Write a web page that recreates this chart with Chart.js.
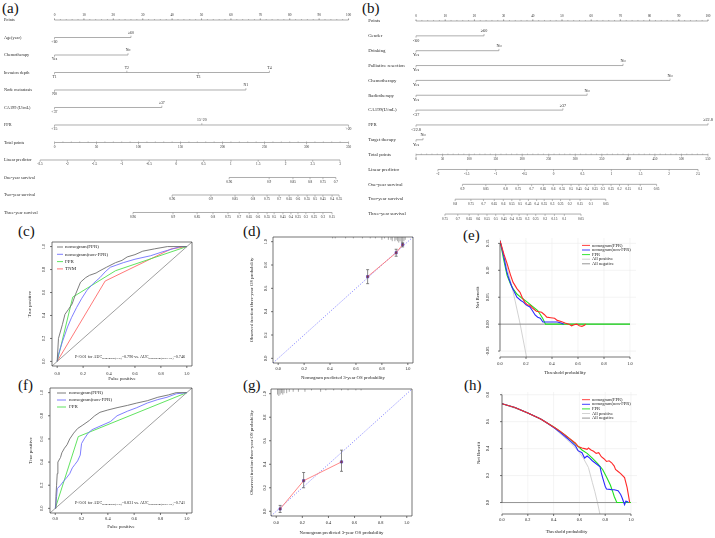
<!doctype html>
<html lang="en">
<head>
<meta charset="utf-8">
<title>Nomograms, ROC, calibration and decision curves</title>
<style>
* { margin: 0; padding: 0; }
body { width: 715px; height: 538px; background: #fff; position: relative; overflow: hidden; }
canvas { position: absolute; left: 0; top: 0; }
.tag { position: absolute; font-family: "Liberation Serif", serif; font-size: 15px; line-height: 15px; color: #111; }
</style>
</head>
<body>
<div class="tag" style="left:2px;top:1px">(a)</div>
<div class="tag" style="left:362px;top:1px">(b)</div>
<div class="tag" style="left:18px;top:224px">(c)</div>
<div class="tag" style="left:243px;top:224px">(d)</div>
<div class="tag" style="left:463px;top:228px">(e)</div>
<div class="tag" style="left:18px;top:378px">(f)</div>
<div class="tag" style="left:243px;top:378px">(g)</div>
<div class="tag" style="left:464px;top:378px">(h)</div>

<canvas id="nomoA" width="715" height="538"></canvas>
<canvas id="nomoB" width="715" height="538"></canvas>
<canvas id="rocC" width="715" height="538"></canvas>
<canvas id="calD" width="715" height="538"></canvas>
<canvas id="dcaE" width="715" height="538"></canvas>
<canvas id="rocF" width="715" height="538"></canvas>
<canvas id="calG" width="715" height="538"></canvas>
<canvas id="dcaH" width="715" height="538"></canvas>

<script src="https://cdn.jsdelivr.net/npm/chart.js"></script>
<script>
// ---------- (a) nomogram : positions are read on the 0-100 "Points" scale ----------
const aRowNames = ['Points', 'Age(year)', 'Chemotherapy', 'Invasion depth', 'Node metastasis', 'CA199 (U/mL)', 'FPR',
  'Total points', 'Linear predictor', 'One-year survival', 'Two-year survival', 'Three-year survival'];
const aPoints = [0, 10, 20, 30, 40, 50, 60, 70, 80, 90, 100];
const aAge = [['<60', 0], ['≥60', 26]];
const aChemo = [['Yes', 0], ['No', 25]];
const aDepth = [['T1', 0], ['T2', 24.6], ['T3', 48.9], ['T4', 73.1]];
const aNode = [['N0', 0], ['N1', 65.1]];
const aCA199 = [['<37', 0], ['≥37', 36.5]];
const aFPR = [['<15', 0], ['15~20', 50.1], ['>20', 100]];
const aTotal = [0, 50, 100, 150, 200, 250, 300, 350];
const aLinear = [-2.5, -2, -1.5, -1, -0.5, 0, 0.5, 1, 1.5, 2, 2.5, 3];
const aLinearEnds = [-4.9, 97.1];
const aOneYear = [['0.96', 59.4], ['0.9', 73.0], ['0.85', 81.1], ['0.8', 86.9], ['0.75', 91.3], ['0.7', 95.7]];
const aTwoYear = [['0.96', 40.0], ['0.9', 53.2], ['0.85', 61.4], ['0.8', 67.5], ['0.75', 72.3], ['0.7', 76.4], ['0.65', 79.8],
  ['0.6', 82.8], ['0.55', 85.9], ['0.5', 88.6], ['0.45', 91.3], ['0.4', 94.4], ['0.35', 96.8]];
const aThreeYear = [['0.96', 26.7], ['0.9', 40.3], ['0.85', 48.5], ['0.8', 53.9], ['0.75', 59.0], ['0.7', 62.8], ['0.65', 66.2],
  ['0.6', 69.2], ['0.55', 72.3], ['0.5', 74.7], ['0.45', 77.7], ['0.4', 80.4], ['0.35', 82.8], ['0.3', 85.5], ['0.25', 88.3],
  ['0.2', 91.3], ['0.15', 94.4]];

// ---------- (b) nomogram ----------
const bRowNames = ['Points', 'Gender', 'Drinking', 'Palliative resection', 'Chemotherapy', 'Radiotherapy', 'CA199(U/mL)', 'FPR',
  'Target therapy', 'Total points', 'Linear predictor', 'One-year survival', 'Two-year survival', 'Three-year survival'];
const bGender = [['<60', 0], ['≥60', 23.3]];
const bDrinking = [['Yes', 0], ['No', 28.4]];
const bPalliative = [['Yes', 0], ['No', 70.9]];
const bChemo = [['Yes', 0], ['No', 87.0]];
const bRadio = [['Yes', 0], ['No', 58.6]];
const bCA199 = [['<37', 0], ['≥37', 50.3]];
const bFPR = [['<22.8', 0], ['≥22.8', 100]];
const bTarget = [['Yes', 0], ['No', 2.4]];
const bTotal = [0, 50, 100, 150, 200, 250, 300, 350, 400, 450, 500, 550];
const bLinear = [-2, -1.5, -1, -0.5, 0, 0.5, 1, 1.5, 2, 2.5];
const bLinearEnds = [7.5, 96.6];
const bOneYear = [['0.9', 15.9], ['0.85', 23.9], ['0.8', 30.7], ['0.75', 35.0], ['0.7', 39.6], ['0.65', 43.6], ['0.6', 47.0],
  ['0.55', 50.1], ['0.5', 53.1], ['0.45', 55.8], ['0.4', 58.5], ['0.35', 61.3], ['0.3', 64.0], ['0.25', 66.8], ['0.2', 69.7],
  ['0.15', 72.7], ['0.1', 76.8], ['0.05', 82.4]];
const bTwoYear = [['0.8', 13.4], ['0.75', 18.8], ['0.7', 23.1], ['0.65', 26.8], ['0.6', 29.9], ['0.55', 32.8], ['0.5', 35.6],
  ['0.45', 38.5], ['0.4', 41.3], ['0.35', 43.9], ['0.3', 46.7], ['0.25', 49.5], ['0.2', 52.7], ['0.15', 56.2], ['0.1', 59.9],
  ['0.05', 65.0]];
const bThreeYear = [['0.75', 9.9], ['0.7', 14.3], ['0.65', 18.2], ['0.6', 21.3], ['0.55', 24.3], ['0.5', 27.3], ['0.45', 30.1],
  ['0.4', 32.8], ['0.35', 35.3], ['0.3', 38.1], ['0.25', 41.0], ['0.2', 44.2], ['0.15', 47.4], ['0.1', 50.8], ['0.05', 56.5]];

// ---------- ROC curves [false positive, true positive] ----------
const cNomoFPR = [[0, 0], [0.01, 0.2], [0.04, 0.32], [0.06, 0.41], [0.085, 0.45], [0.115, 0.5], [0.14, 0.58], [0.18, 0.69],
  [0.22, 0.73], [0.25, 0.75], [0.3, 0.77], [0.33, 0.79], [0.38, 0.82], [0.45, 0.86], [0.5, 0.88], [0.54, 0.91], [0.6, 0.93],
  [0.66, 0.96], [0.75, 0.98], [0.85, 1], [1, 1]];
const cNomoNon = [[0, 0], [0.01, 0.06], [0.04, 0.17], [0.08, 0.3], [0.11, 0.38], [0.15, 0.47], [0.19, 0.55], [0.23, 0.62],
  [0.28, 0.68], [0.33, 0.73], [0.37, 0.78], [0.41, 0.82], [0.46, 0.84], [0.51, 0.86], [0.6, 0.89], [0.72, 0.92], [0.8, 0.95],
  [0.89, 0.98], [0.95, 1], [1, 1]];
const cFPR = [[0, 0], [0.12, 0.56], [0.45, 0.79], [1, 1]];
const cTNM = [[0, 0], [0.37, 0.70], [0.88, 0.98], [1, 1]];

const fNomoFPR = [[0, 0], [0.005, 0.1], [0.01, 0.2], [0.015, 0.3], [0.02, 0.4], [0.04, 0.44], [0.05, 0.48], [0.07, 0.52],
  [0.09, 0.55], [0.11, 0.6], [0.14, 0.65], [0.17, 0.69], [0.21, 0.72], [0.26, 0.76], [0.3, 0.8], [0.34, 0.83], [0.4, 0.85],
  [0.47, 0.87], [0.55, 0.89], [0.62, 0.91], [0.7, 0.93], [0.78, 0.96], [0.86, 0.98], [0.92, 1], [1, 1]];
const fNomoNon = [[0, 0], [0.01, 0.1], [0.015, 0.17], [0.04, 0.2], [0.06, 0.23], [0.09, 0.27], [0.11, 0.3], [0.13, 0.35],
  [0.15, 0.38], [0.17, 0.41], [0.19, 0.46], [0.2, 0.56], [0.22, 0.6], [0.25, 0.65], [0.28, 0.68], [0.34, 0.71], [0.42, 0.75],
  [0.47, 0.8], [0.55, 0.84], [0.62, 0.87], [0.7, 0.91], [0.78, 0.94], [0.85, 0.96], [0.92, 0.99], [1, 1]];
const fFPR = [[0, 0], [0.175, 0.62], [1, 1]];

// ---------- calibration: predicted, observed, error bar ends, rug ----------
const dPred = [0.69, 0.91, 0.96];
const dObs = [0.70, 0.905, 0.975];
const dLow = [0.64, 0.875, 0.955];
const dHigh = [0.76, 0.935, 0.99];
const dRugX = [0.42, 0.44, 0.52, 0.58, 0.65, 0.71, 0.75, 0.8, 0.82, 0.85, 0.87, 0.88, 0.9, 0.91, 0.92, 0.93, 0.94, 0.95, 0.96, 0.97, 0.98];
const dRugN = [1, 1, 1, 1, 1, 1, 1, 2, 1, 2, 2, 3, 3, 2, 3, 4, 3, 4, 5, 3, 2];

const gPred = [0.03, 0.21, 0.5];
const gObs = [0.02, 0.26, 0.42];
const gLow = [-0.01, 0.2, 0.34];
const gHigh = [0.05, 0.33, 0.52];
const gRugX = [0.01, 0.02, 0.03, 0.04, 0.05, 0.06, 0.08, 0.1, 0.13, 0.17, 0.22, 0.27, 0.34, 0.38, 0.44, 0.5, 0.55, 0.61, 0.65];
const gRugN = [4, 5, 4, 3, 4, 3, 3, 2, 2, 2, 2, 1, 2, 1, 1, 1, 1, 1, 1];

// ---------- decision curves [threshold, net benefit] ----------
const eNomoFPR = [[0, 0.155], [0.03, 0.13], [0.054, 0.113], [0.08, 0.092], [0.1, 0.078], [0.13, 0.066], [0.154, 0.059],
  [0.17, 0.05], [0.19, 0.041], [0.21, 0.036], [0.23, 0.035], [0.25, 0.03], [0.28, 0.024], [0.32, 0.022], [0.34, 0.018],
  [0.36, 0.013], [0.39, 0.012], [0.42, 0.011], [0.44, 0.007], [0.47, 0.005], [0.5, 0.002], [0.53, 0], [0.55, -0.003],
  [0.57, -0.001], [0.59, 0], [0.61, -0.003], [0.63, -0.004], [0.65, -0.002], [0.66, 0]];
const eNomoNon = [[0, 0.155], [0.03, 0.125], [0.05, 0.1], [0.065, 0.087], [0.09, 0.07], [0.13, 0.05], [0.16, 0.044],
  [0.18, 0.041], [0.2, 0.036], [0.23, 0.032], [0.25, 0.025], [0.27, 0.017], [0.29, 0.013], [0.31, 0.011], [0.33, 0.004],
  [0.36, 0.004], [0.4, 0.004], [0.44, 0.004], [0.47, 0.002], [0.49, 0]];
const eFPR = [[0, 0.155], [0.03, 0.118], [0.055, 0.09], [0.08, 0.075], [0.1, 0.066], [0.13, 0.056], [0.17, 0.048],
  [0.21, 0.041], [0.25, 0.033], [0.29, 0.025], [0.31, 0.018], [0.33, 0.01], [0.35, 0], [1, 0]];
const eAllPos = [[0, 0.155], [0.05, 0.11], [0.1, 0.061], [0.15, 0.006], [0.2, -0.056], [0.22, -0.083]];
const eAllNeg = [[0, 0], [1, 0]];

const hNomoFPR = [[0, 0.733], [0.1, 0.705], [0.2, 0.665], [0.3, 0.62], [0.35, 0.59], [0.41, 0.555], [0.45, 0.53], [0.49, 0.5],
  [0.53, 0.47], [0.57, 0.44], [0.59, 0.415], [0.62, 0.405], [0.64, 0.4], [0.66, 0.395], [0.67, 0.405], [0.69, 0.39],
  [0.71, 0.38], [0.73, 0.365], [0.75, 0.37], [0.77, 0.34], [0.79, 0.325], [0.81, 0.305], [0.83, 0.31], [0.85, 0.295],
  [0.87, 0.27], [0.88, 0.245], [0.9, 0.23], [0.92, 0.215], [0.95, 0.185], [0.97, 0.11], [0.99, 0]];
const hNomoNon = [[0, 0.733], [0.1, 0.705], [0.2, 0.665], [0.3, 0.62], [0.35, 0.59], [0.41, 0.55], [0.45, 0.52], [0.49, 0.49],
  [0.53, 0.455], [0.57, 0.42], [0.59, 0.385], [0.62, 0.37], [0.64, 0.33], [0.66, 0.345], [0.68, 0.33], [0.7, 0.31],
  [0.72, 0.295], [0.74, 0.28], [0.76, 0.265], [0.77, 0.22], [0.78, 0.185], [0.8, 0.12], [0.81, 0.1], [0.85, 0.096],
  [0.87, 0.095], [0.9, 0.088], [0.92, 0.06], [0.93, 0.037], [0.95, -0.015], [0.96, 0.01], [0.97, 0.007], [0.98, 0]];
const hFPR = [[0, 0.733], [0.1, 0.705], [0.2, 0.665], [0.3, 0.62], [0.41, 0.555], [0.49, 0.5], [0.57, 0.435], [0.62, 0.39],
  [0.66, 0.365], [0.7, 0.33], [0.74, 0.29], [0.78, 0.245], [0.81, 0.19], [0.84, 0.13], [0.86, 0.075], [0.87, 0.045],
  [0.89, 0], [1, 0]];
const hAllPos = [[0, 0.733], [0.2, 0.666], [0.3, 0.62], [0.4, 0.555], [0.5, 0.47], [0.55, 0.425], [0.6, 0.37], [0.63, 0.33],
  [0.67, 0.26], [0.7, 0.15], [0.72, 0.08], [0.74, 0], [0.76, -0.09]];
const hAllNeg = [[0, 0], [1, 0]];

// ---------- axis ticks ----------
const unitTicks = [0, 0.2, 0.4, 0.6, 0.8, 1];
const eYTicks = [-0.05, 0, 0.05, 0.1, 0.15];
const hYTicks = [0, 0.2, 0.4, 0.6, 0.8];

// ================= drawing =================
const W = 715, H = 538;
const FONT = '"Liberation Serif", "Times New Roman", serif';
const fnt = s => s + 'px ' + FONT;
const extras = {};

const GREY = '#6e6e6e', BLUE = '#7070ff', GREEN = '#4fe04f', RED = '#ff6a6a';
const DRED = '#ff2a2a', DBLUE = '#2b2bff', DGREEN = '#1fe01f', POS = '#cdcdcd', NEG = '#8a8a8a';

// nomogram rows
function catRow(levels) {
  return { ticks: levels.map((l, i) => ({ t: l[0], p: l[1], up: i % 2 === 1 })), cat: true };
}
function listRow(list) {
  return { ticks: list.map(l => ({ t: l[0], p: l[1], up: false })) };
}
function pointsRow(vals) {
  const minor = [];
  for (let v = vals[0]; v <= vals[vals.length - 1]; v += 2) minor.push(v);
  return { ticks: vals.map(v => ({ t: String(v), p: v, up: true })), minor };
}
function totalRow(vals) {
  const max = vals[vals.length - 1], minor = [];
  for (let v = 0; v <= max; v += 10) minor.push(v * 100 / max);
  return { ticks: vals.map(v => ({ t: String(v), p: v * 100 / max, up: false })), minor };
}
function linearRow(vals, ends) {
  const v0 = vals[0], v1 = vals[vals.length - 1];
  return { ticks: vals.map(v => ({ t: String(v), p: ends[0] + (v - v0) / (v1 - v0) * (ends[1] - ends[0]), up: false })) };
}

const nomoPlugin = {
  id: 'nomo',
  afterDatasetsDraw(chart) {
    const o = extras[chart.canvas.id];
    const ctx = chart.ctx, xs = chart.scales.x, ys = chart.scales.y;
    ctx.save();
    ctx.strokeStyle = '#8a8a8a';
    ctx.lineWidth = 0.6;
    ctx.fillStyle = '#2a2a2a';
    o.rows.forEach((r, i) => {
      const py = ys.getPixelForValue(i);
      ctx.font = fnt(o.nameSize);
      ctx.textAlign = 'left';
      ctx.textBaseline = 'middle';
      ctx.fillText(o.names[i], xs.getPixelForValue(o.nameAt), py);
      ctx.beginPath();
      (r.minor || []).forEach(p => {
        const px = xs.getPixelForValue(p);
        ctx.moveTo(px, py); ctx.lineTo(px, py - 1);
      });
      r.ticks.forEach(t => {
        const px = xs.getPixelForValue(t.p);
        ctx.moveTo(px, py); ctx.lineTo(px, py + (t.up ? -1.8 : 1.8));
      });
      ctx.stroke();
      ctx.font = fnt(r.cat ? o.catSize : o.tickSize);
      ctx.textAlign = 'center';
      r.ticks.forEach(t => {
        ctx.fillText(t.t, xs.getPixelForValue(t.p), py + (t.up ? -o.gap : o.gap));
      });
    });
    ctx.restore();
  }
};

function nomoChart(id, names, rows, area, xr, yr, sizes) {
  extras[id] = Object.assign({ names, rows }, sizes);
  const datasets = rows.map((r, i) => {
    const ps = r.ticks.map(t => t.p);
    return {
      data: [{ x: Math.min(...ps), y: i }, { x: Math.max(...ps), y: i }],
      showLine: true, borderColor: '#8a8a8a', borderWidth: 0.7, pointRadius: 0
    };
  });
  new Chart(document.getElementById(id), {
    type: 'scatter',
    data: { datasets },
    options: {
      responsive: false, animation: false, events: [],
      layout: { padding: { left: area[0], top: area[1], right: W - area[2], bottom: H - area[3] } },
      scales: {
        x: { type: 'linear', display: false, min: xr[0], max: xr[1] },
        y: { type: 'linear', display: false, min: yr[0], max: yr[1], reverse: true }
      },
      plugins: { legend: { display: false }, tooltip: { enabled: false } }
    },
    plugins: [nomoPlugin]
  });
}

// R-style axes, box, legend and extras for the small plots
function richText(ctx, parts, xRight, y, base, sub) {
  let w = 0;
  parts.forEach(p => { ctx.font = fnt(p[1] ? sub : base); w += ctx.measureText(p[0]).width; });
  let x = xRight - w;
  ctx.textAlign = 'left';
  parts.forEach(p => {
    ctx.font = fnt(p[1] ? sub : base);
    ctx.fillText(p[0], x, y + (p[1] ? sub * 0.45 : 0));
    x += ctx.measureText(p[0]).width;
  });
}

const rPlot = {
  id: 'rplot',
  beforeDatasetsDraw(chart) {
    const o = extras[chart.canvas.id];
    if (!o.grid) return;
    const ctx = chart.ctx, a = chart.chartArea, xs = chart.scales.x, ys = chart.scales.y;
    ctx.save();
    ctx.strokeStyle = '#ececec';
    ctx.lineWidth = 0.6;
    ctx.beginPath();
    o.xTicks.forEach(v => { const p = xs.getPixelForValue(v); ctx.moveTo(p, a.top); ctx.lineTo(p, a.bottom); });
    o.yTicks.forEach(v => { const p = ys.getPixelForValue(v); ctx.moveTo(a.left, p); ctx.lineTo(a.right + 6, p); });
    ctx.stroke();
    ctx.restore();
  },
  afterDatasetsDraw(chart) {
    const o = extras[chart.canvas.id];
    const ctx = chart.ctx, a = chart.chartArea, xs = chart.scales.x, ys = chart.scales.y;
    ctx.save();
    ctx.strokeStyle = '#3a3a3a';
    ctx.fillStyle = '#222';
    ctx.lineWidth = 0.7;

    // error bars
    if (o.err) {
      ctx.strokeStyle = '#555';
      ctx.beginPath();
      o.err.x.forEach((v, i) => {
        const px = xs.getPixelForValue(v), y1 = ys.getPixelForValue(o.err.lo[i]), y2 = ys.getPixelForValue(o.err.hi[i]);
        ctx.moveTo(px, y1); ctx.lineTo(px, y2);
        ctx.moveTo(px - 1.5, y1); ctx.lineTo(px + 1.5, y1);
        ctx.moveTo(px - 1.5, y2); ctx.lineTo(px + 1.5, y2);
      });
      ctx.stroke();
    }
    // rug of predicted values along the top edge
    if (o.rug) {
      ctx.strokeStyle = '#555';
      ctx.lineWidth = 0.5;
      ctx.beginPath();
      o.rug.x.forEach((v, i) => {
        const px = xs.getPixelForValue(v);
        ctx.moveTo(px, a.top); ctx.lineTo(px, a.top + 1.4 * o.rug.n[i]);
      });
      ctx.stroke();
      ctx.lineWidth = 0.7;
    }

    ctx.strokeStyle = '#3a3a3a';
    ctx.beginPath();
    if (o.box) {
      ctx.rect(a.left, a.top, a.right - a.left, a.bottom - a.top);
    } else {
      ctx.moveTo(xs.getPixelForValue(o.xTicks[0]), a.bottom);
      ctx.lineTo(xs.getPixelForValue(o.xTicks[o.xTicks.length - 1]), a.bottom);
      ctx.moveTo(a.left, ys.getPixelForValue(o.yTicks[0]));
      ctx.lineTo(a.left, ys.getPixelForValue(o.yTicks[o.yTicks.length - 1]));
    }
    o.xTicks.forEach(v => { const p = xs.getPixelForValue(v); ctx.moveTo(p, a.bottom); ctx.lineTo(p, a.bottom + 2); });
    o.yTicks.forEach(v => { const p = ys.getPixelForValue(v); ctx.moveTo(a.left, p); ctx.lineTo(a.left - 2, p); });
    ctx.stroke();

    ctx.font = fnt(o.tickSize);
    ctx.textAlign = 'center';
    ctx.textBaseline = 'middle';
    o.xTicks.forEach((v, i) => ctx.fillText(o.xLabels[i], xs.getPixelForValue(v), a.bottom + o.xLab));
    o.yTicks.forEach((v, i) => {
      ctx.save();
      ctx.translate(a.left - o.yLab, ys.getPixelForValue(v));
      ctx.rotate(-Math.PI / 2);
      ctx.fillText(o.yLabels[i], 0, 0);
      ctx.restore();
    });

    ctx.font = fnt(o.titleSize);
    ctx.fillText(o.xTitle, (a.left + a.right) / 2, a.bottom + o.xTit);
    ctx.save();
    ctx.translate(a.left - o.yTit, (a.top + a.bottom) / 2);
    ctx.rotate(-Math.PI / 2);
    ctx.fillText(o.yTitle, 0, 0);
    ctx.restore();

    if (o.legend) {
      const L = o.legend;
      ctx.font = fnt(L.size);
      ctx.textAlign = 'left';
      L.items.forEach((it, i) => {
        const y = a.top + L.dy0 + i * L.dy;
        ctx.strokeStyle = it[1];
        ctx.lineWidth = 0.9;
        ctx.beginPath();
        ctx.moveTo(a.left + L.x0, y); ctx.lineTo(a.left + L.x1, y);
        ctx.stroke();
        ctx.fillStyle = '#222';
        ctx.fillText(it[0], a.left + L.tx, y);
      });
    }
    if (o.note) {
      ctx.fillStyle = '#222';
      richText(ctx, o.note.parts, a.left + o.note.right, a.top + o.note.y, o.note.base, o.note.sub);
    }
    ctx.restore();
  }
};

function line(points, color, width, dash) {
  return {
    data: points.map(p => ({ x: p[0], y: p[1] })),
    showLine: true, borderColor: color, backgroundColor: color, borderWidth: width,
    borderDash: dash || [], pointRadius: 0, tension: 0
  };
}

function rChart(id, area, xr, yr, datasets, o) {
  extras[id] = o;
  new Chart(document.getElementById(id), {
    type: 'scatter',
    data: { datasets },
    options: {
      responsive: false, animation: false, events: [],
      layout: { padding: { left: area[0], top: area[1], right: W - area[2], bottom: H - area[3] } },
      scales: {
        x: { type: 'linear', display: false, min: xr[0], max: xr[1] },
        y: { type: 'linear', display: false, min: yr[0], max: yr[1] }
      },
      plugins: { legend: { display: false }, tooltip: { enabled: false } }
    },
    plugins: [rPlot]
  });
}

const lab1 = v => v.toFixed(1);
const lab2 = v => v.toFixed(2);

// ---- nomograms ----
nomoChart('nomoA', aRowNames, [
  pointsRow(aPoints), catRow(aAge), catRow(aChemo), catRow(aDepth), catRow(aNode), catRow(aCA199), catRow(aFPR),
  totalRow(aTotal), linearRow(aLinear, aLinearEnds), listRow(aOneYear), listRow(aTwoYear), listRow(aThreeYear)
], [0, 0, 355, 228], [-18.54, 102.2], [-1.143, 11.886], { nameAt: -17.2, nameSize: 4.3, tickSize: 3.4, catSize: 3.8, gap: 4.5 });

nomoChart('nomoB', bRowNames, [
  pointsRow(aPoints), catRow(bGender), catRow(bDrinking), catRow(bPalliative), catRow(bChemo), catRow(bRadio), catRow(bCA199),
  catRow(bFPR), catRow(bTarget), totalRow(bTotal), linearRow(bLinear, bLinearEnds), listRow(bOneYear), listRow(bTwoYear),
  listRow(bThreeYear)
], [355, 0, 715, 228], [-20.9, 102.4], [-1.414, 13.94], { nameAt: -16.4, nameSize: 4.8, tickSize: 3.3, catSize: 4.2, gap: 4.6 });

// ---- ROC ----
const rocTicks = { xTicks: unitTicks, xLabels: unitTicks.map(lab1), yTicks: unitTicks, yLabels: unitTicks.map(lab1),
  box: true, tickSize: 4.4, titleSize: 5 };
const diag = [[-0.04, -0.04], [1.04, 1.04]];

rChart('rocC', [52, 242, 192, 366], [-0.04, 1.04], [-0.04, 1.04], [
  line(cNomoFPR, GREY, 0.9), line(cNomoNon, BLUE, 0.9), line(cFPR, GREEN, 0.9), line(cTNM, RED, 0.9), line(diag, '#777', 0.7)
], Object.assign({}, rocTicks, {
  xTitle: 'False positive', yTitle: 'True positive', xLab: 8, xTit: 13, yLab: 8, yTit: 22,
  legend: { x0: 5, x1: 11, tx: 13, dy0: 5, dy: 7.3, size: 5,
    items: [['nomogram(FPR)', GREY], ['nomogram(non-FPR)', BLUE], ['FPR', GREEN], ['TNM', RED]] },
  note: { right: 133, y: 115, base: 4.1, sub: 2.9,
    parts: [['P<0.01 for AUC', 0], ['nomogram(FPR)', 1], ['=0.790 vs. AUC', 0], ['nomogram(non-FPR)', 1], ['=0.746', 0]] }
}));

rChart('rocF', [50, 388, 192, 513], [-0.04, 1.04], [-0.04, 1.04], [
  line(fNomoFPR, GREY, 0.9), line(fNomoNon, BLUE, 0.9), line(fFPR, GREEN, 0.9), line(diag, '#777', 0.7)
], Object.assign({}, rocTicks, {
  xTitle: 'False positive', yTitle: 'True positive', xLab: 6, xTit: 14, yLab: 8, yTit: 19,
  legend: { x0: 7, x1: 16, tx: 19, dy0: 5, dy: 7, size: 5,
    items: [['nomogram(FPR)', GREY], ['nomogram(non-FPR)', BLUE], ['FPR', GREEN]] },
  note: { right: 135, y: 115, base: 4.1, sub: 2.9,
    parts: [['P<0.01 for AUC', 0], ['nomogram(FPR)', 1], ['=0.831 vs. AUC', 0], ['nomogram(non-FPR)', 1], ['=0.741', 0]] }
}));

// ---- calibration ----
function calSets(pred, obs) {
  const pts = pred.map((p, i) => ({ x: p, y: obs[i] }));
  return [
    { data: pts, pointStyle: 'rect', pointRadius: 1.6, backgroundColor: '#d01818', borderColor: '#3b3bd0', borderWidth: 0.6 },
    line(pred.map((p, i) => [p, obs[i]]), '#ff7a7a', 0.9),
    line(diag, '#5a5aff', 0.8, [1, 1.6])
  ];
}
const calCommon = { xTicks: unitTicks, xLabels: unitTicks.map(lab1), yTicks: unitTicks, yLabels: unitTicks.map(lab1),
  box: true, tickSize: 4.3, titleSize: 4.8,
  xTitle: 'Nomogram predicted 3-year OS probability', yTitle: 'Observed fraction three-year OS probability' };

rChart('calD', [273, 237, 413, 363], [-0.04, 1.04], [-0.04, 1.04], calSets(dPred, dObs),
  Object.assign({}, calCommon, { xLab: 6, xTit: 15, yLab: 7, yTit: 21,
    err: { x: dPred, lo: dLow, hi: dHigh }, rug: { x: dRugX, n: dRugN } }));

rChart('calG', [271, 389, 412, 516], [-0.04, 1.04], [-0.04, 1.04], calSets(gPred, gObs),
  Object.assign({}, calCommon, { xLab: 7, xTit: 17, yLab: 6, yTit: 19,
    err: { x: gPred, lo: gLow, hi: gHigh }, rug: { x: gRugX, n: gRugN } }));

// ---- decision curves ----
const dcaLegend = [['nomogram(FPR)', DRED], ['nomogram(non-FPR)', DBLUE], ['FPR', DGREEN], ['All positive', POS], ['All negative', NEG]];

rChart('dcaE', [500, 238, 630, 357], [0, 1], [-0.061, 0.16], [
  line(eNomoFPR, DRED, 1.1), line(eNomoNon, DBLUE, 1.1), line(eFPR, DGREEN, 1.1), line(eAllNeg, NEG, 0.9), line(eAllPos, POS, 0.9)
], {
  grid: true, box: false, xTicks: unitTicks, xLabels: unitTicks.map(lab1), yTicks: eYTicks, yLabels: eYTicks.map(lab2),
  tickSize: 4.3, titleSize: 4.8, xTitle: 'Threshold probability', yTitle: 'Net Benefit',
  xLab: 7, xTit: 16, yLab: 12, yTit: 22,
  legend: { x0: 82, x1: 90, tx: 92, dy0: 7.4, dy: 4.6, size: 4.5, items: dcaLegend }
});

rChart('dcaH', [502, 392, 631, 514], [0, 1], [-0.085, 0.82], [
  line(hNomoFPR, DRED, 1.1), line(hNomoNon, DBLUE, 1.1), line(hFPR, DGREEN, 1.1), line(hAllNeg, NEG, 0.9), line(hAllPos, POS, 0.9)
], {
  grid: true, box: false, xTicks: unitTicks, xLabels: unitTicks.map(lab1), yTicks: hYTicks, yLabels: hYTicks.map(lab1),
  tickSize: 4.3, titleSize: 4.8, xTitle: 'Threshold probability', yTitle: 'Net Benefit',
  xLab: 6, xTit: 18, yLab: 14, yTit: 23,
  legend: { x0: 80, x1: 88, tx: 90, dy0: 7.7, dy: 4.6, size: 4.5, items: dcaLegend }
});
</script>
</body>
</html>
